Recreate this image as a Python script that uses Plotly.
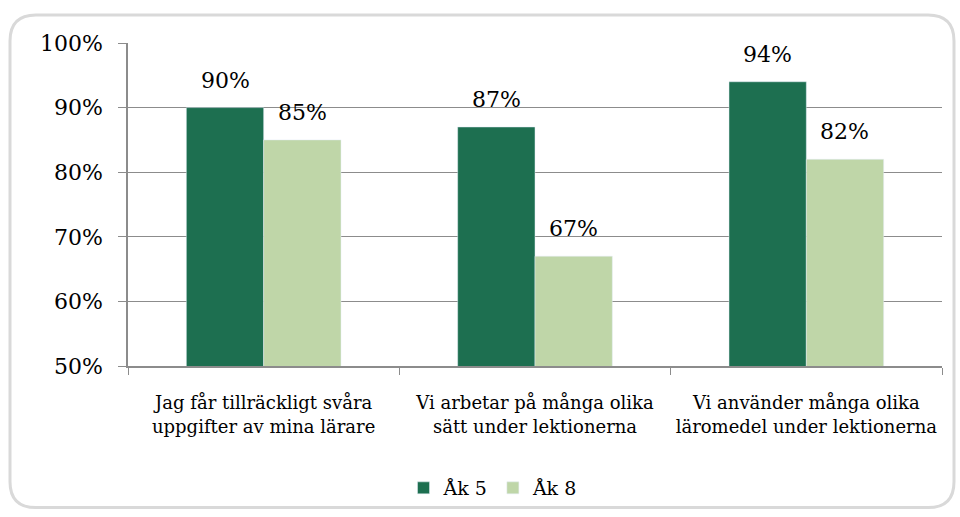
import plotly.graph_objects as go

categories = ["Jag får tillräckligt svåra<br>uppgifter av mina lärare",
              "Vi arbetar på många olika<br>sätt under lektionerna",
              "Vi använder många olika<br>läromedel under lektionerna"]
series_names = ["Åk 5", "Åk 8"]
ak5 = [0.90, 0.87, 0.94]
ak8 = [0.85, 0.67, 0.82]
y_ticks = [0.5, 0.6, 0.7, 0.8, 0.9, 1.0]
y_tick_labels = ["50%", "60%", "70%", "80%", "90%", "100%"]

colors = ["#1D6F50", "#BFD6A8"]
FONT = "DejaVu Serif"

fig = go.Figure()
for name, vals, col in zip(series_names, [ak5, ak8], colors):
    fig.add_trace(go.Bar(x=categories, y=vals, name=name, marker_color=col))

W, H = 960, 517
L, R, T, B = 128, 942, 43, 367
def px(x): return (x - L) / (R - L)
def py(y): return (B - y) / (B - T)

# value labels above each bar (offset half a bar to either side of the category centre)
bar_px = (R - L) / len(categories) * (1 - 0.43) / 2
annotations = []
for k, vals in enumerate([ak5, ak8]):
    shift = (k - 0.5) * bar_px
    for c, v in zip(categories, vals):
        annotations.append(dict(x=c, y=v, xref="x", yref="y", text=f"{round(v*100)}%",
                                showarrow=False, yanchor="bottom", xanchor="center",
                                xshift=shift, yshift=13,
                                font=dict(family=FONT, size=22, color="#000")))

x0, x1, y0, y1, r = 10, 954, 15, 509, 26
path = (f"M {px(x0+r)},{py(y0)} L {px(x1-r)},{py(y0)} Q {px(x1)},{py(y0)} {px(x1)},{py(y0+r)} "
        f"L {px(x1)},{py(y1-r)} Q {px(x1)},{py(y1)} {px(x1-r)},{py(y1)} "
        f"L {px(x0+r)},{py(y1)} Q {px(x0)},{py(y1)} {px(x0)},{py(y1-r)} "
        f"L {px(x0)},{py(y0+r)} Q {px(x0)},{py(y0)} {px(x0+r)},{py(y0)} Z")

fig.update_layout(
    width=W, height=H,
    margin=dict(l=L, r=W - R, t=T, b=H - B),
    paper_bgcolor="white", plot_bgcolor="white",
    barmode="group", bargap=0.43, bargroupgap=0,
    font=dict(family=FONT, size=18, color="#000"),
    showlegend=True,
    legend=dict(orientation="h", x=px(493), y=py(488), xanchor="center", yanchor="middle",
                font=dict(family=FONT, size=19), itemwidth=30, traceorder="normal",
                bgcolor="rgba(0,0,0,0)"),
    annotations=annotations,
    shapes=[dict(type="path", xref="paper", yref="paper", path=path,
                 line=dict(color="#D9D9D9", width=3), fillcolor="rgba(0,0,0,0)", layer="below")],
)
fig.update_xaxes(showline=True, linecolor="#8C8C8C", linewidth=1.5,
                 ticks="outside", tickson="boundaries", ticklen=7, tickcolor="#8C8C8C",
                 tickfont=dict(family=FONT, size=18), showgrid=False, ticklabelstandoff=20)
fig.update_yaxes(range=[0.5, 1.0], tickvals=y_ticks, ticktext=y_tick_labels,
                 showline=True, linecolor="#8C8C8C", linewidth=1.5,
                 ticks="outside", ticklen=8, tickcolor="#8C8C8C",
                 gridcolor="#8C8C8C", gridwidth=1.2, zeroline=False,
                 tickfont=dict(family=FONT, size=22), ticklabelstandoff=11)

fig.write_html("out.html", config={"displayModeBar": False},
               post_script="document.body.style.margin='0';document.body.style.overflow='hidden';")
